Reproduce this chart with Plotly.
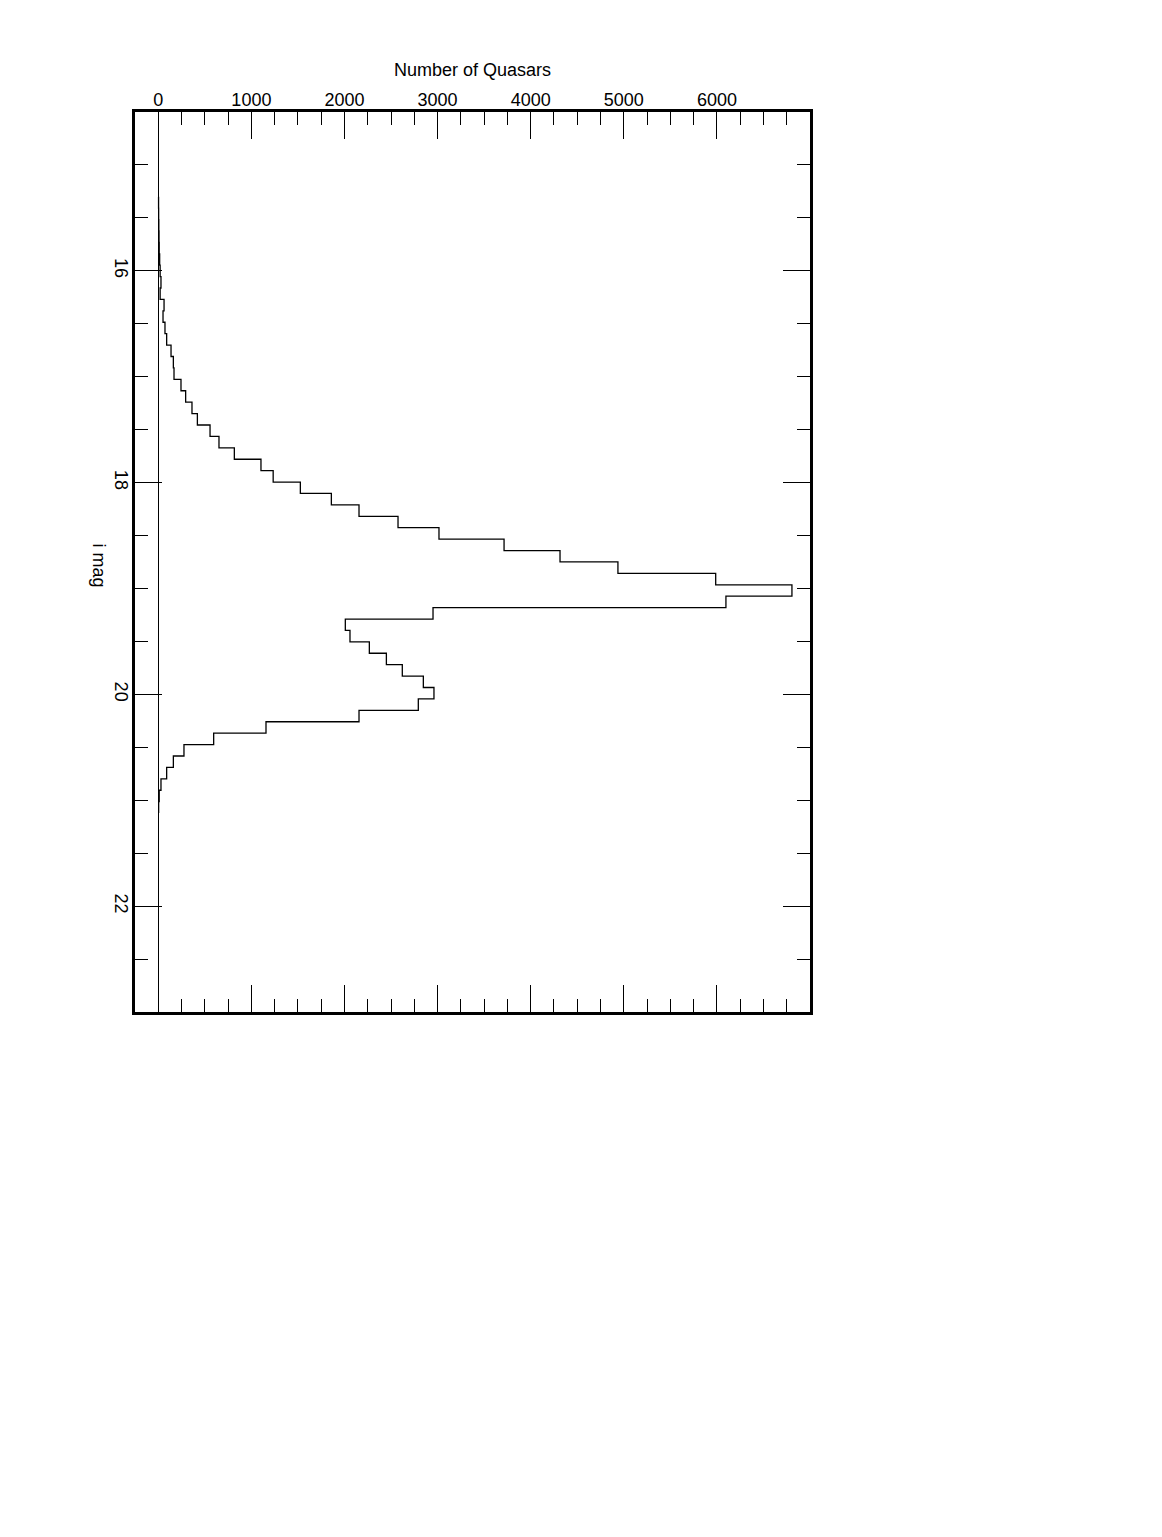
import numpy as np
import plotly.graph_objects as go

# i-band magnitude histogram of quasars (bins)
bin_start = 15.30
bin_width = 0.1078
counts = [3, 4, 6, 8, 10, 15,
          20, 29, 20, 62, 51, 72, 90, 137, 162, 169, 244, 294, 362, 420,
          556, 652, 817, 1103, 1234,
          1526, 1859, 2156, 2575, 3015, 3714, 4315, 4937, 5987, 6806, 6097, 2951,
          2009, 2059, 2267, 2450, 2621, 2847, 2961, 2793, 2156, 1157, 595, 276,
          162, 90, 29, 10, 4]

x_ticks = [0, 1000, 2000, 3000, 4000, 5000, 6000]
y_ticks = [16, 18, 20, 22]

edges = bin_start + bin_width * np.arange(len(counts) + 1)
step_x = counts + [counts[-1]]

font = "Liberation Sans, Arial, Helvetica, sans-serif"

fig = go.Figure()
fig.add_trace(
    go.Scatter(x=step_x, y=edges, mode="lines", line_shape="vh",
               line=dict(color="black", width=1.3), showlegend=False)
)

axis_common = dict(
    showgrid=False,
    showline=True, linecolor="black", linewidth=2.5,
    mirror="ticks",
    ticks="inside", ticklen=27, tickwidth=1, tickcolor="black",
    tickfont=dict(family=font, size=18, color="black"),
    ticklabelstandoff=-4,
)

fig.update_xaxes(
    **axis_common,
    side="top",
    range=[-250, 7000],
    tickvals=x_ticks,
    zeroline=True, zerolinecolor="black", zerolinewidth=1,
    minor=dict(dtick=250, tick0=0, ticks="inside", ticklen=13,
               tickwidth=1, tickcolor="black", showgrid=False),
)
fig.update_yaxes(
    **axis_common,
    range=[23, 14.5],
    tickvals=y_ticks,
    tickangle=90,
    zeroline=False,
    minor=dict(dtick=0.5, tick0=0, ticks="inside", ticklen=13,
               tickwidth=1, tickcolor="black", showgrid=False),
)

# axis titles placed by hand so the y one can read top-to-bottom
fig.add_annotation(text="Number of Quasars", xref="paper", yref="paper",
                   x=0.5, y=1.0467, xanchor="center", yanchor="middle",
                   showarrow=False,
                   font=dict(family=font, size=18, color="black"))
fig.add_annotation(text="i mag", xref="paper", yref="paper",
                   x=-0.054, y=0.4967, xanchor="center", yanchor="middle",
                   textangle=90, showarrow=False,
                   font=dict(family=font, size=18, color="black"))

fig.update_layout(
    width=1162, height=1537,
    margin=dict(l=127, r=360, t=104, b=533),
    paper_bgcolor="white", plot_bgcolor="white",
)

fig.write_html("out.html")
